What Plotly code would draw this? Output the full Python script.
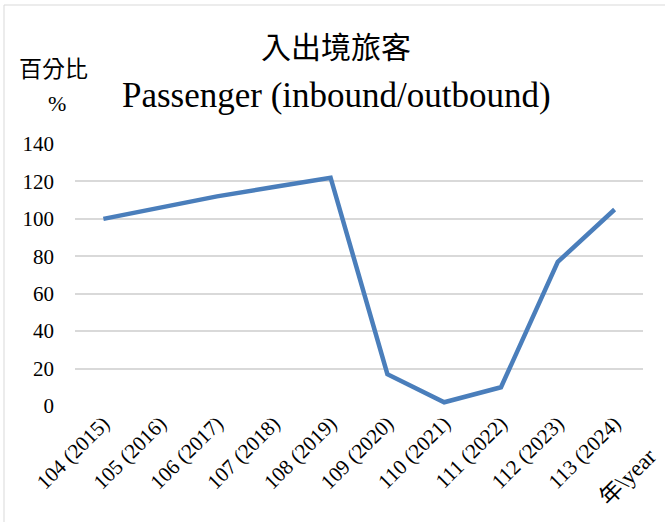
import plotly.graph_objects as go

# Passenger (inbound/outbound) index, % by year
years = ["104 (2015)", "105 (2016)", "106 (2017)", "107 (2018)", "108 (2019)",
         "109 (2020)", "110 (2021)", "111 (2022)", "112 (2023)", "113 (2024)"]
percent = [100, 106, 112, 117, 122, 17, 2, 10, 77, 105]
y_ticks = [0, 20, 40, 60, 80, 100, 120, 140]

serif = "Liberation Serif, Times New Roman, Noto Sans CJK TC, serif"
cjk = "Noto Sans CJK TC, serif"

fig = go.Figure()
fig.add_trace(go.Scatter(x=years, y=percent, mode="lines",
                         line=dict(color="#4a7ebb", width=4.5),
                         showlegend=False, hoverinfo="x+y"))

fig.update_layout(
    width=665, height=522,
    margin=dict(l=75, r=22, t=144, b=116),
    paper_bgcolor="white", plot_bgcolor="white",
    font=dict(family=serif, size=21, color="black"),
    xaxis=dict(type="category", range=[-0.5, len(years) - 0.5], tickangle=-45,
               showgrid=False, zeroline=False, showline=False, ticks="",
               tickfont=dict(family=serif, size=21)),
    yaxis=dict(range=[0, 140], tickvals=y_ticks, showgrid=True,
               gridcolor="#d9d9d9", gridwidth=1.5, zeroline=False,
               showline=False, ticks="", ticklabelstandoff=20,
               tickfont=dict(family=serif, size=21)),
    annotations=[
        dict(text="入出境旅客", xref="paper", yref="paper", x=0.46, y=1.378,
             showarrow=False, xanchor="center", yanchor="middle",
             font=dict(family=cjk, size=30)),
        dict(text="Passenger (inbound/outbound)", xref="paper", yref="paper",
             x=0.461, y=1.187, showarrow=False, xanchor="center", yanchor="middle",
             font=dict(family=serif, size=35)),
        dict(text="百分比", xref="paper", yref="paper", x=-0.037, y=1.294,
             showarrow=False, xanchor="center", yanchor="middle",
             font=dict(family=cjk, size=23)),
        dict(text="%", xref="paper", yref="paper", x=-0.032, y=1.156,
             showarrow=False, xanchor="center", yanchor="middle",
             font=dict(family=serif, size=22)),
        dict(text="年\\year", xref="paper", yref="paper", x=0.972, y=-0.271,
             showarrow=False, xanchor="center", yanchor="middle", textangle=-45,
             font=dict(family=serif, size=23)),
    ],
    shapes=[dict(type="rect", xref="paper", yref="paper",
                 x0=-0.125, x1=2, y0=-2, y1=1.5305,
                 line=dict(color="#d9d9d9", width=1))],
)

fig.write_html("out.html", config={"displayModeBar": False},
               post_script="document.body.style.margin='0';")
